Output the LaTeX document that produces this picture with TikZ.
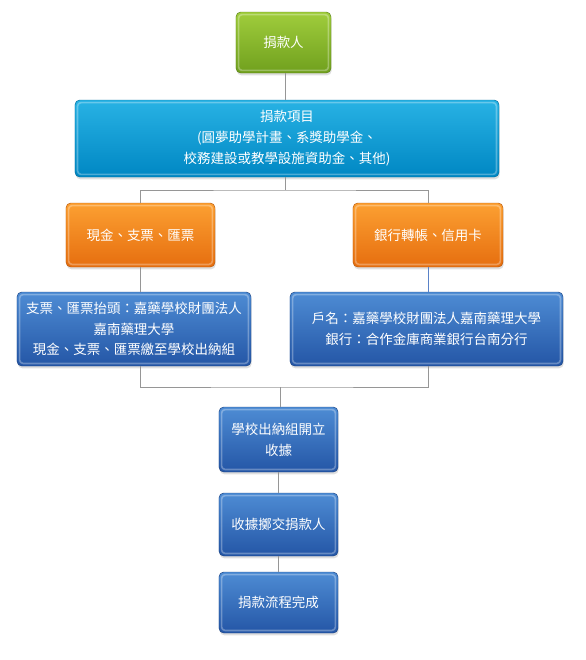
\documentclass[tikz,border=0pt]{standalone}
\usepackage{fontspec}
\setmainfont{Noto Sans CJK TC}
\usepackage{tikz}
\usetikzlibrary{shadows}
\definecolor{greenA}{RGB}{160,205,60}
\definecolor{greenB}{RGB}{112,160,30}
\definecolor{cyanA}{RGB}{40,178,228}
\definecolor{cyanB}{RGB}{0,135,195}
\definecolor{orangeA}{RGB}{252,160,50}
\definecolor{orangeB}{RGB}{230,110,15}
\definecolor{blueA}{RGB}{78,140,212}
\definecolor{blueB}{RGB}{36,86,166}
\definecolor{linec}{RGB}{150,150,150}
\definecolor{lineb}{RGB}{90,130,200}

\begin{document}
\begin{tikzpicture}[x=0.03cm,y=-0.03cm,
    every node/.style={font=\fontsize{11.5}{17.8}\selectfont,text=white,align=center},
    box/.style={rounded corners=4pt,draw=#1B!80!black,top color=#1A,bottom color=#1B,
      drop shadow={opacity=0.25,shadow xshift=0.6pt,shadow yshift=-2pt},
      path picture={\draw[white,opacity=0.3,line width=1.4pt,rounded corners=3pt]
        ([shift={(2.2pt,-2.2pt)}]path picture bounding box.north west) rectangle
        ([shift={(-2.2pt,2.2pt)}]path picture bounding box.south east);}},
    conn/.style={draw=linec,line width=0.6pt}]
  \useasboundingbox (0,0) rectangle (586,660);
  \node[box=green,minimum width=2.85cm,minimum height=1.83cm] (donor) at (283.5,42.5) {捐款人};
  \node[box=cyan,minimum width=12.72cm,minimum height=2.31cm] (items) at (287,138.5)
    {捐款項目\\(圓夢助學計畫、系獎助學金、\\校務建設或教學設施資助金、其他)};
  \node[box=orange,minimum width=4.47cm,minimum height=1.92cm] (cash) at (140.5,235) {現金、支票、匯票};
  \node[box=orange,minimum width=4.5cm,minimum height=1.92cm] (bank) at (428,235) {銀行轉帳、信用卡};
  \node[box=blue,minimum width=7.02cm,minimum height=2.22cm] (cheque) at (134,329)
    {支票、匯票抬頭：嘉藥學校財團法人\\嘉南藥理大學\\現金、支票、匯票繳至學校出納組};
  \node[box=blue,minimum width=8.19cm,minimum height=2.22cm] (acct) at (426.5,329)
    {戶名：嘉藥學校財團法人嘉南藥理大學\\銀行：合作金庫商業銀行台南分行};
  \node[box=blue,minimum width=3.57cm,minimum height=1.95cm] (receipt) at (278.5,439.5) {學校出納組開立\\收據};
  \node[box=blue,minimum width=3.57cm,minimum height=1.89cm] (send) at (278.5,524.5) {收據擲交捐款人};
  \node[box=blue,minimum width=3.57cm,minimum height=1.83cm] (done) at (278.5,602.5) {捐款流程完成};

  % connectors
  \coordinate (fk1) at (285,190);
  \coordinate (fk2) at (280,387);
  \draw[conn] (donor.south -| fk1) -- (items.north -| fk1);
  \draw[conn] (items.south -| fk1) -- (fk1);
  \draw[conn] (cash.north) |- (fk1) -| (bank.north);
  \draw[conn] (cash.south) -- (cash.south |- cheque.north);
  \draw[conn,draw=lineb] (bank.south) -- (bank.south |- acct.north);
  \draw[conn] (cheque.south -| cash) |- (fk2) -| (acct.south -| bank);
  \draw[conn] (fk2) -- (receipt.north -| fk2);
  \draw[conn] (receipt.south) -- (send.north);
  \draw[conn] (send.south) -- (done.north);
\end{tikzpicture}
\end{document}
